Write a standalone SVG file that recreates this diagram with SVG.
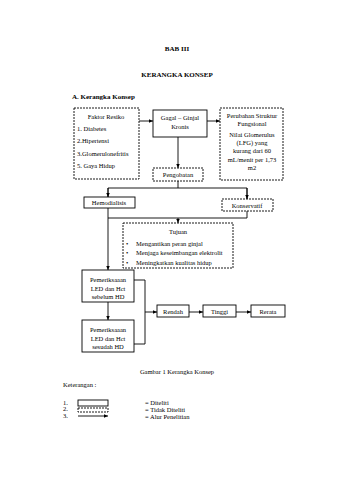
<svg xmlns="http://www.w3.org/2000/svg" width="340" height="480" viewBox="0 0 340 480">
<style>
text{font-family:"Liberation Serif","Times New Roman",serif;font-size:6.5px;fill:#000}
.b{font-weight:bold}
.m{text-anchor:middle}
.s{fill:#fff;stroke:#000;stroke-width:0.9}
.d{fill:#fff;stroke:#000;stroke-width:0.9;stroke-dasharray:2,1}
.c{fill:none;stroke:#000;stroke-width:0.9}
</style>
<defs>
<marker id="ah" markerWidth="5" markerHeight="5" refX="4.5" refY="2.5" orient="auto" markerUnits="userSpaceOnUse">
<path d="M0,0.5 L4.5,2.5 L0,4.5 Z" fill="#000"/>
</marker>
</defs>
<rect width="340" height="480" fill="#fff"/>
<text class="b m" x="177" y="51" style="font-size:7px">BAB III</text>
<text class="b m" x="177" y="77" style="font-size:7px">KERANGKA KONSEP</text>
<text class="b" x="72" y="99" style="font-size:7px">A.   Kerangka Konsep</text>

<g id="faktor">
<rect class="d" x="74" y="108" width="65" height="71"/>
<text class="m" x="106" y="119">Faktor Resiko</text>
<text x="77" y="131">1. Diabetes</text>
<text x="77" y="143">2.Hipertensi</text>
<text x="77" y="156">3.Glomerulonefritis</text>
<text x="77" y="168">5. Gaya Hidup</text>
</g>
<g id="gagal">
<rect class="s" x="153" y="110" width="54" height="27"/>
<text class="m" x="180" y="120">Gagal – Ginjal</text>
<text class="m" x="180" y="129">Kronis</text>
</g>
<g id="perubahan">
<rect class="d" x="220" y="108" width="63" height="72"/>
<text class="m" x="252" y="118">Perubahan Struktur</text>
<text class="m" x="252" y="126">Fungsional</text>
<text class="m" x="252" y="137">Nilai Glomerulus</text>
<text class="m" x="252" y="145">(LFG) yang</text>
<text class="m" x="252" y="153">kurang dari 60</text>
<text class="m" x="252" y="162">mL/menit per 1,73</text>
<text class="m" x="252" y="170">m2</text>
</g>
<g id="pengobatan">
<rect class="d" x="153" y="168" width="50" height="13"/>
<text class="m" x="178" y="177">Pengobatan</text>
</g>
<g id="hemodialisis">
<rect class="s" x="84" y="197" width="51" height="11"/>
<text class="m" x="109" y="205">Hemodialisis</text>
</g>
<g id="konservatif">
<rect class="d" x="222" y="199" width="51" height="12"/>
<text class="m" x="247" y="207.5">Konservatif</text>
</g>
<g id="tujuan">
<rect class="d" x="123" y="223" width="110" height="45"/>
<text class="m" x="178" y="234">Tujuan</text>
<text x="126" y="246">•</text>
<text x="136" y="246">Mengantikan peran ginjal</text>
<text x="126" y="255">•</text>
<text x="136" y="255">Menjaga keseimbangan elektrolit</text>
<text x="126" y="265">•</text>
<text x="136" y="265">Meningkatkan kualitas hidup</text>
</g>
<g id="sebelum">
<rect class="s" x="82" y="270" width="52" height="32"/>
<text class="m" x="108" y="282">Pemeriksaaan</text>
<text class="m" x="108" y="291">LED dan Hct</text>
<text class="m" x="108" y="299">sebelum HD</text>
</g>
<g id="sesudah">
<rect class="s" x="82" y="320" width="52" height="32"/>
<text class="m" x="108" y="332">Pemeriksaaan</text>
<text class="m" x="108" y="341">LED dan Hct</text>
<text class="m" x="108" y="349">sesudah HD</text>
</g>
<g id="rendah">
<rect class="s" x="157" y="305" width="32" height="12"/>
<text class="m" x="173" y="313.5">Rendah</text>
</g>
<g id="tinggi">
<rect class="s" x="203" y="305" width="33" height="12"/>
<text class="m" x="219.5" y="313.5">Tinggi</text>
</g>
<g id="rerata">
<rect class="s" x="251" y="305" width="34" height="12"/>
<text class="m" x="268" y="313.5">Rerata</text>
</g>

<g id="connectors">
<line class="c" x1="139" y1="121" x2="153" y2="121" marker-end="url(#ah)"/>
<line class="c" x1="207" y1="121" x2="220" y2="121" marker-end="url(#ah)"/>
<line class="c" x1="178" y1="137" x2="178" y2="168" marker-end="url(#ah)"/>
<polyline class="c" points="178,181 178,188"/>
<polyline class="c" points="108,197 108,188 247,188 247,199"/>
<line class="c" x1="108" y1="188" x2="108" y2="197" marker-end="url(#ah)"/>
<line class="c" x1="247" y1="188" x2="247" y2="199" marker-end="url(#ah)"/>
<line class="c" x1="108" y1="208" x2="108" y2="270" marker-end="url(#ah)"/>
<polyline class="c" points="247,211 247,218 108,218"/>
<line class="c" x1="178" y1="218" x2="178" y2="223" marker-end="url(#ah)"/>
<line class="c" x1="108" y1="302" x2="108" y2="320" marker-end="url(#ah)"/>
<polyline class="c" points="134,280 145,280 145,344 134,344"/>
<line class="c" x1="145" y1="312" x2="157" y2="312" marker-end="url(#ah)"/>
<line class="c" x1="189" y1="312" x2="203" y2="312" marker-end="url(#ah)"/>
<line class="c" x1="236" y1="312" x2="251" y2="312" marker-end="url(#ah)"/>
</g>

<text class="m" x="177" y="374">Gambar 1 Kerangka Konsep</text>
<text x="63" y="387">Keterangan :</text>
<g id="legend">
<text x="63" y="405">1.</text>
<text x="63" y="411">2.</text>
<text x="63" y="418">3.</text>
<rect class="s" x="78" y="400" width="30" height="6"/>
<rect class="d" x="78" y="408" width="30" height="4"/>
<line class="c" x1="78" y1="416" x2="108" y2="416" marker-end="url(#ah)"/>
<text x="145" y="405">= Diteliti</text>
<text x="145" y="412">= Tidak Diteliti</text>
<text x="145" y="419">= Alur Penelitian</text>
</g>
</svg>
